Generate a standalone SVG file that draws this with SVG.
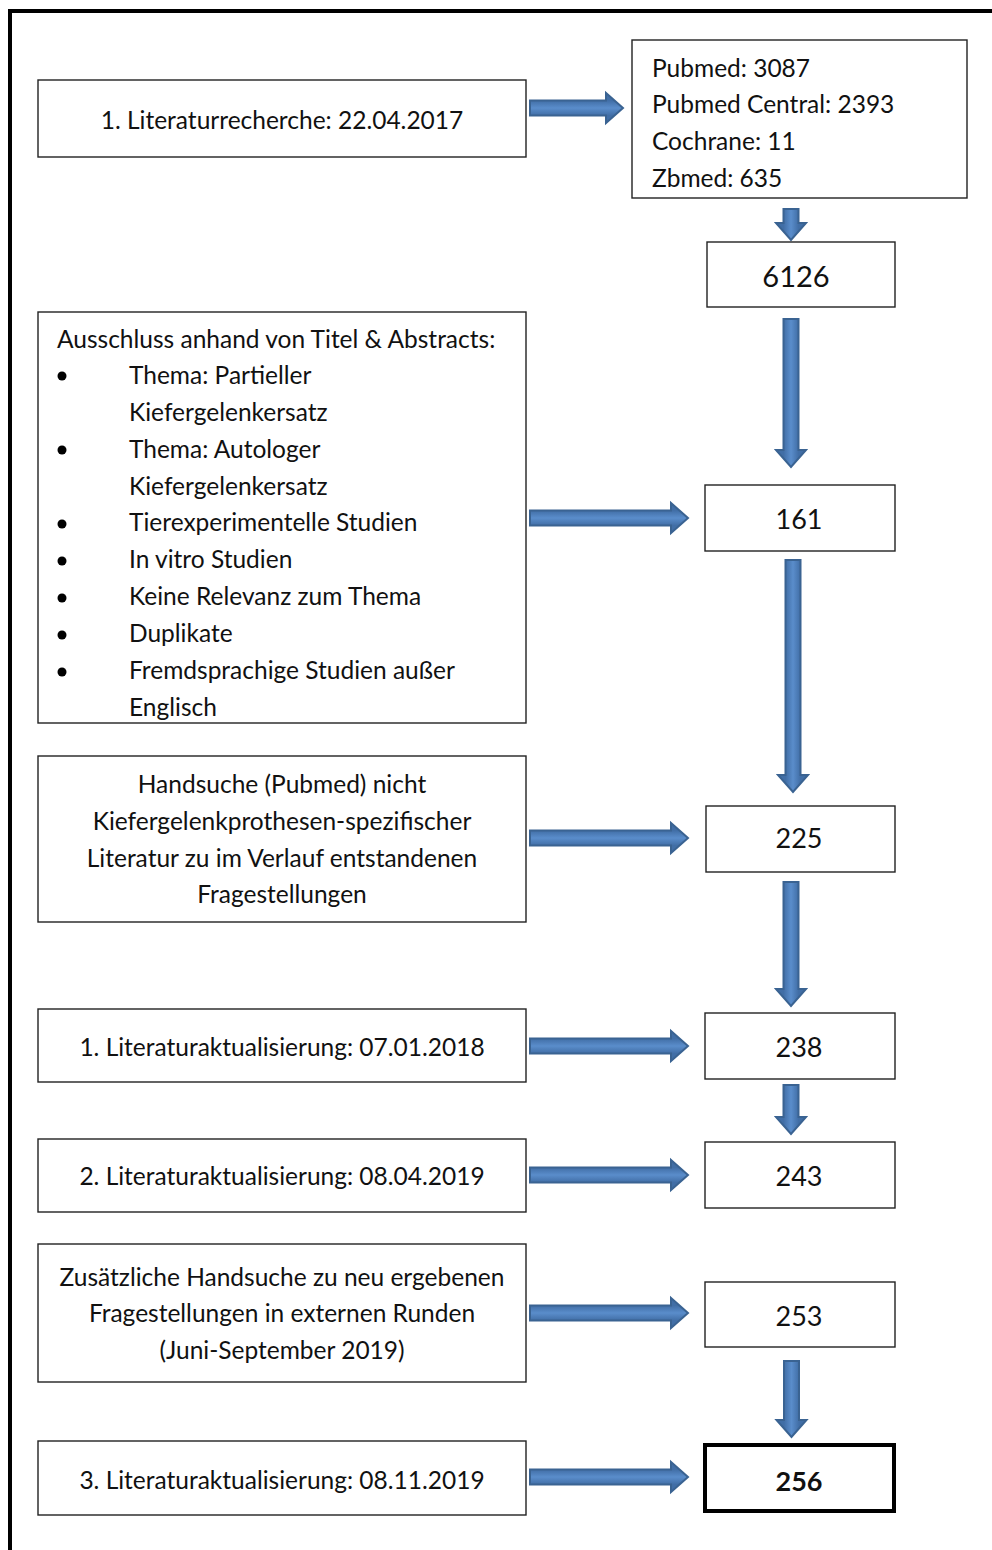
<svg xmlns="http://www.w3.org/2000/svg" width="992" height="1550" viewBox="0 0 992 1550">
<defs>
<linearGradient id="gh" x1="0" y1="0" x2="0" y2="1">
<stop offset="0.25" stop-color="#416ea6"/>
<stop offset="0.5" stop-color="#5a8dcb"/>
<stop offset="0.75" stop-color="#416ea6"/>
</linearGradient>
<linearGradient id="gv" x1="0" y1="0" x2="1" y2="0">
<stop offset="0.25" stop-color="#416ea6"/>
<stop offset="0.5" stop-color="#5a8dcb"/>
<stop offset="0.75" stop-color="#416ea6"/>
</linearGradient>
</defs>
<style>
.box{fill:#fff;stroke:#222;stroke-width:1.4}
.bold{fill:#fff;stroke:#000;stroke-width:4}
.t{font-family:Lato,"Liberation Sans",sans-serif;font-size:24.5px;fill:#111}
.c{text-anchor:middle}
.n{font-family:Lato,"Liberation Sans",sans-serif;font-size:27px;fill:#111;text-anchor:middle}
.arr{stroke:#3a6392;stroke-width:2;stroke-linejoin:miter}
.h{fill:url(#gh)}
.v{fill:url(#gv)}
.frame{fill:none;stroke:#000;stroke-width:4}
</style>
<rect width="992" height="1550" fill="#fff"/>
<path class="frame" d="M10,1550 V11 H992"/>

<g id="connectors">
<path class="arr h" d="M530,100.5 H606 V93 L623,108 L606,123 V115.5 H530 Z"/>
<path class="arr h" d="M530,510.5 H671 V503 L688,518 L671,533 V525.5 H530 Z"/>
<path class="arr h" d="M530,830.5 H671 V823 L688,838 L671,853 V845.5 H530 Z"/>
<path class="arr h" d="M530,1038.5 H671 V1031 L688,1046 L671,1061 V1053.5 H530 Z"/>
<path class="arr h" d="M530,1167.5 H671 V1160 L688,1175 L671,1190 V1182.5 H530 Z"/>
<path class="arr h" d="M530,1305.5 H671 V1298 L688,1313 L671,1328 V1320.5 H530 Z"/>
<path class="arr h" d="M530,1469.5 H671 V1462 L688,1477 L671,1492 V1484.5 H530 Z"/>
<path class="arr v" d="M783.5,209 V223 H776 L791,240 L806,223 H798.5 V209 Z"/>
<path class="arr v" d="M783.5,319 V450 H776 L791,467 L806,450 H798.5 V319 Z"/>
<path class="arr v" d="M785.5,560 V775 H778 L793,792 L808,775 H800.5 V560 Z"/>
<path class="arr v" d="M783.5,882 V989 H776 L791,1006 L806,989 H798.5 V882 Z"/>
<path class="arr v" d="M783.5,1085 V1117 H776 L791,1134 L806,1117 H798.5 V1085 Z"/>
<path class="arr v" d="M784,1361 V1420 H776.5 L791.5,1437 L806.5,1420 H799 V1361 Z"/>
</g>

<g id="n1"><rect class="box" x="38" y="80" width="488" height="77"/>
<text class="t c" x="282" y="129">1. Literaturrecherche: 22.04.2017</text></g>

<g id="n2"><rect class="box" x="632" y="40" width="335" height="158"/>
<text class="t" x="652" y="77">Pubmed: 3087</text>
<text class="t" x="652" y="113">Pubmed Central: 2393</text>
<text class="t" x="652" y="150">Cochrane: 11</text>
<text class="t" x="652" y="187">Zbmed: 635</text></g>

<g id="n3"><rect class="box" x="707" y="242" width="188" height="65"/>
<text class="n" x="796" y="287" style="font-size:29px">6126</text></g>

<g id="n4"><rect class="box" x="38" y="312" width="488" height="411"/>
<text class="t" x="57" y="348">Ausschluss anhand von Titel &amp; Abstracts:</text>
<circle cx="62" cy="376" r="4.5" fill="#000"/>
<text class="t" x="129" y="384">Thema: Partieller</text>
<text class="t" x="129" y="421">Kiefergelenkersatz</text>
<circle cx="62" cy="450" r="4.5" fill="#000"/>
<text class="t" x="129" y="458">Thema: Autologer</text>
<text class="t" x="129" y="495">Kiefergelenkersatz</text>
<circle cx="62" cy="524" r="4.5" fill="#000"/>
<text class="t" x="129" y="531">Tierexperimentelle Studien</text>
<circle cx="62" cy="561" r="4.5" fill="#000"/>
<text class="t" x="129" y="568">In vitro Studien</text>
<circle cx="62" cy="598" r="4.5" fill="#000"/>
<text class="t" x="129" y="605">Keine Relevanz zum Thema</text>
<circle cx="62" cy="635" r="4.5" fill="#000"/>
<text class="t" x="129" y="642">Duplikate</text>
<circle cx="62" cy="672" r="4.5" fill="#000"/>
<text class="t" x="129" y="679">Fremdsprachige Studien außer</text>
<text class="t" x="129" y="716">Englisch</text></g>

<g id="n5"><rect class="box" x="705" y="485" width="190" height="66"/>
<text class="n" x="799" y="529">161</text></g>

<g id="n6"><rect class="box" x="38" y="756" width="488" height="166"/>
<text class="t c" x="282" y="793">Handsuche (Pubmed) nicht</text>
<text class="t c" x="282" y="830">Kiefergelenkprothesen-spezifischer</text>
<text class="t c" x="282" y="867">Literatur zu im Verlauf entstandenen</text>
<text class="t c" x="282" y="903">Fragestellungen</text></g>

<g id="n7"><rect class="box" x="706" y="806" width="189" height="66"/>
<text class="n" x="799" y="848">225</text></g>

<g id="n8"><rect class="box" x="38" y="1009" width="488" height="73"/>
<text class="t c" x="282" y="1056">1. Literaturaktualisierung: 07.01.2018</text></g>

<g id="n9"><rect class="box" x="705" y="1013" width="190" height="66"/>
<text class="n" x="799" y="1057">238</text></g>

<g id="n10"><rect class="box" x="38" y="1139" width="488" height="73"/>
<text class="t c" x="282" y="1185">2. Literaturaktualisierung: 08.04.2019</text></g>

<g id="n11"><rect class="box" x="705" y="1142" width="190" height="66"/>
<text class="n" x="799" y="1186">243</text></g>

<g id="n12"><rect class="box" x="38" y="1244" width="488" height="138"/>
<text class="t c" x="282" y="1286">Zusätzliche Handsuche zu neu ergebenen</text>
<text class="t c" x="282" y="1322">Fragestellungen in externen Runden</text>
<text class="t c" x="282" y="1359">(Juni-September 2019)</text></g>

<g id="n13"><rect class="box" x="705" y="1282" width="190" height="65"/>
<text class="n" x="799" y="1326">253</text></g>

<g id="n14"><rect class="box" x="38" y="1441" width="488" height="74"/>
<text class="t c" x="282" y="1489">3. Literaturaktualisierung: 08.11.2019</text></g>

<g id="n15"><rect class="bold" x="705" y="1445" width="189" height="66"/>
<text class="n" x="799" y="1491" style="font-weight:bold">256</text></g>
</svg>
